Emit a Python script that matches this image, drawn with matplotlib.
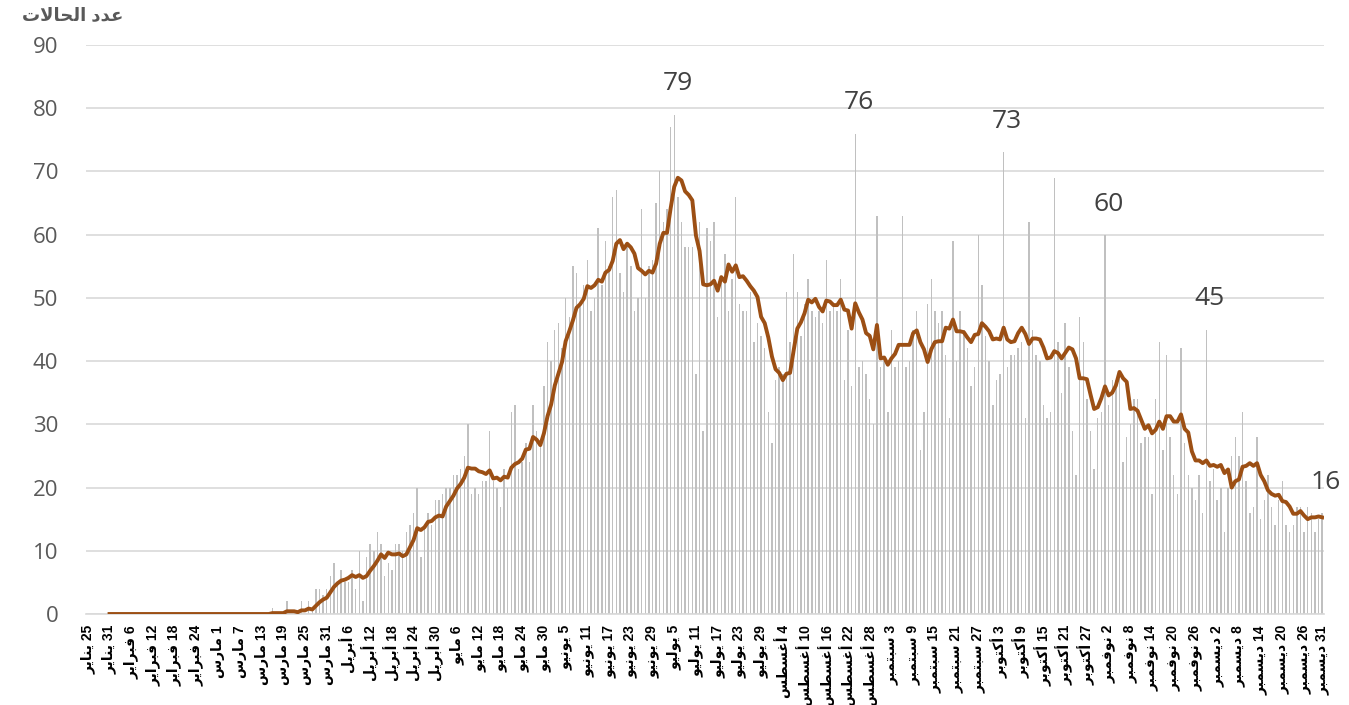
import matplotlib
matplotlib.use("Agg")
import matplotlib.pyplot as plt
import numpy as np
import pandas as pd

# daily new cases, 25 Jan - 31 Dec 2020
first_day = "2020-01-25"
last_day = "2020-12-31"
daily = [
    0, 0, 0, 0, 0, 0, 0, 0, 0, 0, 0, 0, 0, 0, 0, 0, 0,
    0, 0, 0, 0, 0, 0, 0, 0, 0, 0, 0, 0, 0, 0, 0, 0, 0,
    0, 0, 0, 0, 0, 0, 0, 0, 0, 0, 0, 0, 0, 0, 0, 0, 0,
    1, 0, 0, 0, 2, 0, 0, 0, 2, 0, 2, 1, 4, 4, 3, 4, 6, 8, 5,  # 51-69
    7, 5, 5, 7, 4, 10, 2, 9, 11, 10, 13, 11, 6, 8, 7, 11, 11, 10, 13, 14,  # 70-89
    16, 20, 9, 14, 16, 14, 18, 18, 19, 20, 20, 22, 22, 23, 25, 30, 19, 20, 19, 21,  # 90-109
    21, 29, 21, 20, 17, 23, 20, 32, 33, 23, 24, 27, 24, 33, 29, 27, 36, 43, 40, 45,  # 110-129
    46, 42, 50, 47, 55, 54, 49, 52, 56, 48, 50, 61, 52, 59, 55, 66, 67, 54, 51, 58,  # 130-149
    55, 48, 50, 64, 50, 55, 56, 65, 70, 62, 64, 77, 79, 66, 62, 58, 58, 58, 38, 62,  # 150-169
    29, 61, 59, 62, 47, 53, 57, 48, 53, 66, 49, 48, 48, 51, 43, 46, 44, 42, 32, 27,  # 170-189
    37, 39, 38, 51, 43, 57, 51, 44, 49, 53, 48, 47, 48, 46, 56, 48, 49, 48, 53, 37,  # 190-209
    45, 36, 76, 39, 40, 38, 34, 30, 63, 39, 40, 32, 45, 39, 40, 63, 39, 40, 45, 48,  # 210-229
    26, 32, 49, 53, 48, 46, 48, 41, 31, 59, 40, 48, 45, 42, 36, 39, 60, 52, 44, 40,  # 230-249
    33, 37, 38, 73, 39, 41, 41, 42, 43, 31, 62, 45, 41, 40, 33, 31, 32, 69, 43, 35,  # 250-269
    46, 39, 29, 22, 47, 43, 34, 29, 23, 31, 32, 60, 33, 37, 37, 38, 24, 28, 30, 34,  # 270-289
    34, 27, 28, 28, 19, 34, 43, 26, 41, 28, 22, 19, 42, 27, 22, 20, 18, 22, 16, 45,  # 290-309
    21, 23, 18, 20, 13, 20, 25, 28, 25, 32, 21, 16, 17, 28, 15, 18, 22, 17, 14, 18,  # 310-329
    21, 14, 13, 14, 17, 17, 13, 17, 16, 13, 15, 16,  # 330-341
]
# days whose count is written above the bar
labelled_days = ["2020-07-05", "2020-08-24", "2020-10-04", "2020-11-01", "2020-11-29", "2020-12-31"]

months_ar = ["يناير", "فبراير", "مارس", "أبريل", "مايو", "يونيو",
             "يوليو", "أغسطس", "سبتمبر", "أكتوبر", "نوفمبر", "ديسمبر"]
y_title = "عدد الحالات"

# --- arabic shaping (matplotlib has no bidi / joining support) ---
FORMS = {
    "ا": ("\uFE8D", "\uFE8E", None, None),
    "أ": ("\uFE83", "\uFE84", None, None),
    "ب": ("\uFE8F", "\uFE90", "\uFE91", "\uFE92"),
    "ت": ("\uFE95", "\uFE96", "\uFE97", "\uFE98"),
    "ح": ("\uFEA1", "\uFEA2", "\uFEA3", "\uFEA4"),
    "د": ("\uFEA9", "\uFEAA", None, None),
    "ر": ("\uFEAD", "\uFEAE", None, None),
    "س": ("\uFEB1", "\uFEB2", "\uFEB3", "\uFEB4"),
    "ط": ("\uFEC1", "\uFEC2", "\uFEC3", "\uFEC4"),
    "ع": ("\uFEC9", "\uFECA", "\uFECB", "\uFECC"),
    "غ": ("\uFECD", "\uFECE", "\uFECF", "\uFED0"),
    "ف": ("\uFED1", "\uFED2", "\uFED3", "\uFED4"),
    "ك": ("\uFED9", "\uFEDA", "\uFEDB", "\uFEDC"),
    "ل": ("\uFEDD", "\uFEDE", "\uFEDF", "\uFEE0"),
    "م": ("\uFEE1", "\uFEE2", "\uFEE3", "\uFEE4"),
    "ن": ("\uFEE5", "\uFEE6", "\uFEE7", "\uFEE8"),
    "و": ("\uFEED", "\uFEEE", None, None),
    "ي": ("\uFEF1", "\uFEF2", "\uFEF3", "\uFEF4"),
}
LAM_ALEF = {"ا": ("\uFEFB", "\uFEFC"), "أ": ("\uFEF7", "\uFEF8")}


def shape(text):
    toks = []
    i = 0
    while i < len(text):
        c = text[i]
        if c == "ل" and i + 1 < len(text) and text[i + 1] in LAM_ALEF:
            toks.append(("LA", text[i + 1]))
            i += 2
        else:
            toks.append(("C", c))
            i += 1

    def is_ar(t):
        return t[0] == "LA" or t[1] in FORMS

    def joins_next(t):
        return t[0] == "C" and t[1] in FORMS and FORMS[t[1]][2] is not None

    out = []
    for k, t in enumerate(toks):
        prev_j = k > 0 and joins_next(toks[k - 1]) and is_ar(t)
        next_j = k + 1 < len(toks) and joins_next(t) and is_ar(toks[k + 1])
        if t[0] == "LA":
            out.append(LAM_ALEF[t[1]][1 if prev_j else 0])
        elif t[1] in FORMS:
            iso, fin, ini, med = FORMS[t[1]]
            if prev_j and next_j:
                out.append(med)
            elif prev_j:
                out.append(fin)
            elif next_j:
                out.append(ini)
            else:
                out.append(iso)
        else:
            out.append(t[1])
    return "".join(reversed(out))


dates = pd.date_range(first_day, last_day, freq="D")
x = np.arange(len(dates))
avg7 = pd.Series(daily, dtype=float).rolling(7).mean()

tick_idx = list(range(0, len(dates), 6))
if tick_idx[-1] != len(dates) - 1:
    tick_idx.append(len(dates) - 1)
tick_lbl = [shape(months_ar[dates[k].month - 1]) + " " + str(dates[k].day) for k in tick_idx]

W, H = 1349, 705
fig = plt.figure(figsize=(W / 100, H / 100), dpi=100)
ax = fig.add_axes([86 / W, 1 - 614 / H, (1324 - 86) / W, (614 - 45) / H])

ax.bar(x, daily, width=0.4, color="#C0C0C0", zorder=2)
ax.plot(x, avg7, color="#9C4F14", lw=2.8, zorder=3, solid_joinstyle="round")

for d in labelled_days:
    k = dates.get_loc(pd.Timestamp(d))
    ax.annotate(str(daily[k]), (k, daily[k]), xytext=(2.5, 22), textcoords="offset points",
                ha="center", va="center", fontsize=19, color="#404040", family="Open Sans")

ax.set_xlim(-0.5, len(dates) - 0.5)
ax.set_ylim(0, 90)
ax.set_yticks(range(0, 91, 10))
ax.yaxis.grid(True, color="#D9D9D9", lw=1.2, zorder=0)
ax.set_axisbelow(True)
for s in ["top", "right", "left"]:
    ax.spines[s].set_visible(False)
ax.spines["bottom"].set_color("#D9D9D9")
ax.spines["bottom"].set_linewidth(1.2)

ax.tick_params(axis="y", length=0, pad=20, labelsize=16, labelcolor="#595959")
for t in ax.get_yticklabels():
    t.set_family("Open Sans")
ax.set_xticks(tick_idx)
ax.set_xticklabels(tick_lbl, rotation=90, fontsize=10, fontweight="bold",
                   family=["Liberation Sans", "DejaVu Sans"], va="top", ha="center")
ax.tick_params(axis="x", length=0, pad=8)

fig.text(22 / W, 1 - 16 / H, shape(y_title), ha="left", va="center", fontsize=13,
         fontweight="bold", color="#595959", family=["Liberation Sans", "DejaVu Sans"])

fig.savefig("out.png", dpi=100, facecolor="white")
